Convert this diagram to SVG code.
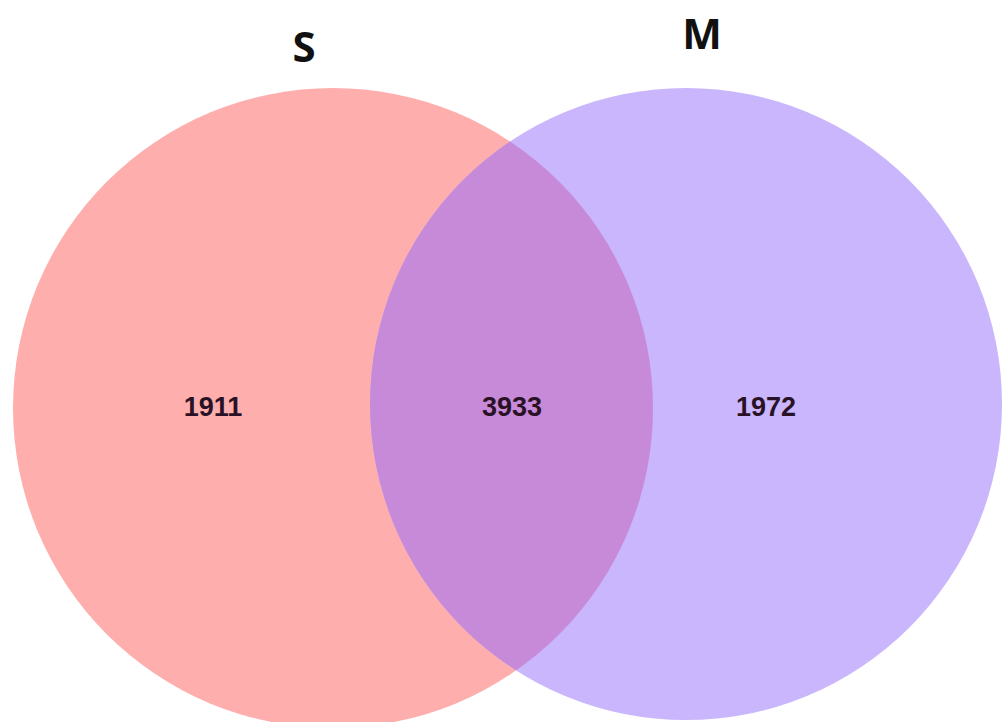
<svg xmlns="http://www.w3.org/2000/svg" width="1002" height="722" viewBox="0 0 1002 722">
<style>
.title{font-family:"Open Sans","Liberation Sans",sans-serif;font-weight:bold;font-size:42px;fill:#111;text-anchor:middle}
.num{font-family:"Liberation Sans","DejaVu Sans",sans-serif;font-weight:bold;font-size:27px;fill:#2a1226;text-anchor:middle}
</style>
<defs>
<clipPath id="clipL"><circle cx="333" cy="408" r="320"/></clipPath>
</defs>
<rect width="1002" height="722" fill="#ffffff"/>
<g id="setS"><circle cx="333" cy="408" r="320" fill="#FFAEAE"/></g>
<g id="setM"><circle cx="686" cy="404" r="316" fill="#C9B6FC"/></g>
<g id="overlap"><circle cx="686" cy="404" r="316" fill="#C68AD8" clip-path="url(#clipL)"/></g>
<g id="labels">
<text class="title" x="304" y="62">S</text>
<text class="title" x="702" y="49">M</text>
<text class="num" x="213" y="416">1911</text>
<text class="num" x="512" y="416">3933</text>
<text class="num" x="766" y="416">1972</text>
</g>
</svg>
